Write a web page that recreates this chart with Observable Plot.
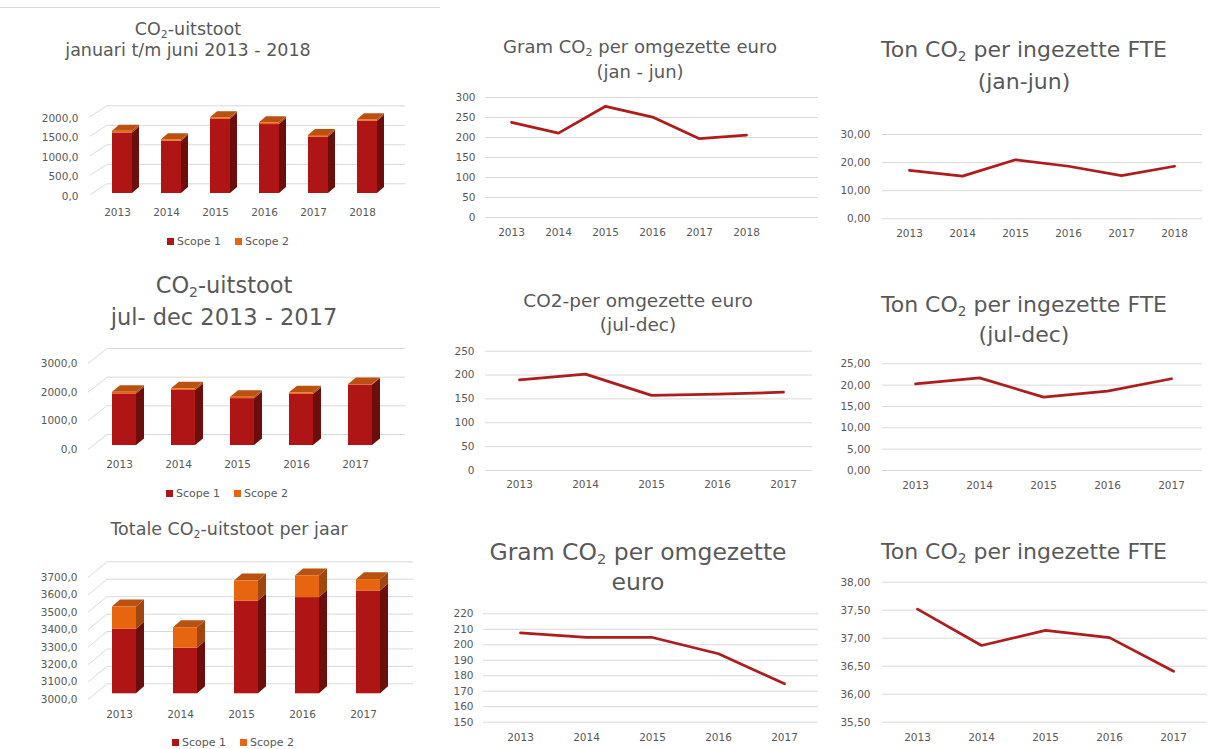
<!DOCTYPE html>
<html><head><meta charset="utf-8">
<script src="https://cdn.jsdelivr.net/npm/d3@7"></script>
<script src="https://cdn.jsdelivr.net/npm/@observablehq/plot@0.6"></script>
<style>
html,body{margin:0;padding:0;background:#fff;}
#canvas{position:relative;width:1212px;height:749px;overflow:hidden;font-family:"DejaVu Sans",sans-serif;color:#595959;}
.title{position:absolute;white-space:nowrap;text-align:center;line-height:1;color:#595959;}
.title sub{font-size:0.62em;vertical-align:-0.28em;line-height:0;}
.legend{position:absolute;display:flex;align-items:center;font-size:11px;color:#595959;white-space:nowrap;height:14px;}
.legend .sw{width:7px;height:7px;display:inline-block;margin-right:3px;}
.legend .item{display:flex;align-items:center;margin-right:14px;}
</style></head><body><div id="canvas"></div>
<script>
// ---------- data ----------
const yearsH1 = ["2013","2014","2015","2016","2017","2018"];
const yearsH2 = ["2013","2014","2015","2016","2017"];
const seriesNames = ["Scope 1","Scope 2"];

// CO2-uitstoot januari t/m juni (bar, stacked)
const h1Scope1 = [1552, 1342, 1901, 1768, 1447, 1855];
const h1Scope2 = [45, 35, 40, 45, 40, 35];
const h1Ticks = [0, 500, 1000, 1500, 2000];

// CO2-uitstoot jul-dec (bar, stacked)
const h2Scope1 = [1800, 1922, 1635, 1783, 2113];
const h2Scope2 = [60, 55, 50, 55, 15];
const h2Ticks = [0, 1000, 2000, 3000];

// Totale CO2-uitstoot per jaar (bar, stacked)
const totScope1 = [3370, 3262, 3532, 3552, 3590];
const totScope2 = [128, 117, 115, 124, 65];
const totTicks = [3000, 3100, 3200, 3300, 3400, 3500, 3600, 3700];

// Line charts
const gramH1 = [238, 211, 278, 251, 197, 206];
const gramH1Ticks = [0, 50, 100, 150, 200, 250, 300];
const tonH1 = [17.2, 15.2, 21.0, 18.7, 15.4, 18.7];
const tonH1Ticks = [0, 10, 20, 30];
const gramH2 = [190, 202, 157.5, 160, 164];
const gramH2Ticks = [0, 50, 100, 150, 200, 250];
const tonH2 = [20.3, 21.7, 17.2, 18.6, 21.5];
const tonH2Ticks = [0, 5, 10, 15, 20, 25];
const gramYear = [207.7, 204.7, 204.7, 194.2, 174.8];
const gramYearTicks = [150, 160, 170, 180, 190, 200, 210, 220];
const tonYear = [37.52, 36.87, 37.14, 37.01, 36.41];
const tonYearTicks = [35.5, 36, 36.5, 37, 37.5, 38];

// ---------- styling ----------
const GRID = "#D9D9D9";
const TEXT = "#595959";
const LINE = "#B01C1C";
const FRONT = {"Scope 1": "#B01515", "Scope 2": "#E8650F"};
const SIDE = {"Scope 1": "#6B0E0C", "Scope 2": "#A0460E"};
const TOP = "#BA5111";
const fmt1 = d => d3.format(".1f")(d).replace(".", ",");
const fmt2 = d => d3.format(".2f")(d).replace(".", ",");
const fmt0 = d3.format("d");
const baseStyle = {fontFamily: '"DejaVu Sans", sans-serif', fontSize: "10.5px", color: TEXT, background: "transparent", overflow: "visible"};

const canvas = document.getElementById("canvas");
function place(el, left, top) {
  el.style.position = "absolute";
  el.style.left = left + "px";
  el.style.top = top + "px";
  canvas.appendChild(el);
}
function title(lines, cx, cys, size) {
  lines.forEach((html, i) => {
    const d = document.createElement("div");
    d.className = "title";
    d.innerHTML = html;
    d.style.fontSize = size + "px";
    d.style.width = "440px";
    place(d, cx - 220, cys[i] - size * 0.5);
  });
}
function legend(left, cy) {
  const d = document.createElement("div");
  d.className = "legend";
  seriesNames.forEach(s => {
    const it = document.createElement("span");
    it.className = "item";
    it.innerHTML = `<span class="sw" style="background:${FRONT[s]}"></span>${s}`;
    d.appendChild(it);
  });
  place(d, left, cy - 7);
}
const deg = r => r * 180 / Math.PI;

function barChart(o) {
  const segs = [];
  o.years.forEach((yr, i) => {
    const a = o.s1[i], b = o.s2[i];
    segs.push({year: yr, series: "Scope 1", lo: o.base, hi: a});
    segs.push({year: yr, series: "Scope 2", lo: a, hi: a + b});
  });
  const tops = o.years.map((yr, i) => ({year: yr, total: o.s1[i] + o.s2[i]}));
  const common = {
    width: o.w, height: o.h, marginLeft: o.ml, marginRight: o.mr, marginTop: 0, marginBottom: o.mb,
    style: baseStyle,
    x: {type: "band", domain: o.years, range: o.xRange, padding: 0.6},
    y: {domain: [o.base, o.ticks[o.ticks.length - 1]], range: o.yRange}
  };
  const probe = Plot.plot({...common, marks: [Plot.barY(tops, {x: "year", y1: "total", y2: "total"})]});
  const sx = probe.scale("x");
  const bw = sx.bandwidth;
  const start = sx.apply(o.years[0]);
  const L = o.L;
  const marks = [
    Plot.ruleY(o.ticks, {stroke: GRID, strokeWidth: 1, dy: -o.back}),
    Plot.tickY(o.ticks, {x: () => o.years[0], y: d => d, stroke: GRID, strokeWidth: 1,
      insetLeft: 0, insetRight: bw - L, dx: o.ml - (start + L), dy: -o.back, ariaLabel: () => "diag"})
  ];
  seriesNames.forEach(s => {
    marks.push(Plot.barY(segs.filter(d => d.series === s), {x: "year", y1: "lo", y2: "hi", fill: SIDE[s],
      insetLeft: bw, insetRight: -o.d, ariaLabel: () => "side"}));
  });
  marks.push(Plot.barY(tops, {x: "year", y1: "total", y2: "total", fill: TOP, insetTop: -o.dv, ariaLabel: () => "top"}));
  seriesNames.forEach(s => {
    marks.push(Plot.barY(segs.filter(d => d.series === s), {x: "year", y1: "lo", y2: "hi", fill: FRONT[s]}));
  });
  marks.push(Plot.axisY({ticks: o.ticks, tickSize: 0, tickPadding: o.yPad, tickFormat: fmt1, dy: o.labelDy, label: null}));
  marks.push(Plot.axisX({tickSize: 0, tickPadding: o.xPad, dx: o.xDx, label: null}));
  const chart = Plot.plot({...common, marks});
  const sel = d3.select(chart);
  sel.selectAll('rect[aria-label="side"]')
    .style("transform-box", "fill-box").style("transform-origin", "left center")
    .style("transform", `skewY(${-deg(Math.atan(o.dv / o.d))}deg)`);
  sel.selectAll('rect[aria-label="top"]')
    .style("transform-box", "fill-box").style("transform-origin", "center bottom")
    .style("transform", `skewX(${-deg(Math.atan(o.d / o.dv))}deg)`);
  sel.selectAll('line[aria-label="diag"]')
    .style("transform-box", "fill-box").style("transform-origin", "right center")
    .style("transform", `skewY(${-deg(Math.atan(o.drop / L))}deg)`);
  place(chart, o.left, o.top);
}

function lineChart(o) {
  const rows = o.years.map((yr, i) => ({year: yr, value: o.values[i]}));
  const chart = Plot.plot({
    width: o.w, height: o.h, marginLeft: o.ml, marginRight: o.mr, marginTop: o.mt, marginBottom: o.mb,
    style: baseStyle,
    x: {type: "point", domain: o.years, range: o.xRange, padding: 0},
    y: {domain: [o.ticks[0], o.ticks[o.ticks.length - 1]]},
    marks: [
      Plot.ruleY(o.ticks, {stroke: GRID, strokeWidth: 1}),
      Plot.axisY({ticks: o.ticks, tickSize: 0, tickPadding: o.yPad, tickFormat: o.fmt, label: null}),
      Plot.axisX({tickSize: 0, tickPadding: o.xPad, label: null}),
      Plot.line(rows, {x: "year", y: "value", stroke: LINE, strokeWidth: 2.75, strokeLinejoin: "round", strokeLinecap: "round"})
    ]
  });
  place(chart, o.left, o.top);
}

// top thin separator line
const sep = document.createElement("div");
sep.style.cssText = "width:440px;height:1px;background:#D9D9D9;";
place(sep, 0, 7);

// ---------- bar charts ----------
barChart({years: yearsH1, s1: h1Scope1, s2: h1Scope2, base: 0, ticks: h1Ticks,
  left: 0, top: 95, w: 440, h: 130, ml: 107, mr: 35, mb: 32, xRange: [80, 408], yRange: [98, 20],
  back: 9.7, d: 7, dv: 6, L: 17, drop: 11, labelDy: 3, yPad: 29, xPad: 15, xDx: -5});
barChart({years: yearsH2, s1: h2Scope1, s2: h2Scope2, base: 0, ticks: h2Ticks,
  left: 0, top: 330, w: 440, h: 150, ml: 107, mr: 35, mb: 35, xRange: [75, 408], yRange: [115, 29],
  back: 11, d: 8, dv: 6.5, L: 19, drop: 15, labelDy: 4, yPad: 30, xPad: 15, xDx: -5});
barChart({years: yearsH2, s1: totScope1, s2: totScope2, base: 3000, ticks: totTicks,
  left: 0, top: 550, w: 440, h: 175, ml: 107, mr: 27, mb: 31.7, xRange: [74, 418], yRange: [143.3, 21.3],
  back: 10, d: 8, dv: 7, L: 19, drop: 15.7, labelDy: 5.7, yPad: 30, xPad: 17, xDx: -5});

// ---------- line charts ----------
lineChart({years: yearsH1, values: gramH1, ticks: gramH1Ticks, fmt: fmt0,
  left: 440, top: 85, w: 380, h: 160, ml: 45, mr: 2, mt: 12, mb: 28, xRange: [70, 307], yPad: 10, xPad: 11});
lineChart({years: yearsH1, values: tonH1, ticks: tonH1Ticks, fmt: fmt2,
  left: 820, top: 120, w: 392, h: 130, ml: 62, mr: 10, mt: 14, mb: 31.7, xRange: [87, 355], yPad: 12, xPad: 11});
lineChart({years: yearsH2, values: gramH2, ticks: gramH2Ticks, fmt: fmt0,
  left: 440, top: 340, w: 380, h: 160, ml: 45, mr: 8, mt: 10.7, mb: 30, xRange: [78, 343], yPad: 11, xPad: 10});
lineChart({years: yearsH2, values: tonH2, ticks: tonH2Ticks, fmt: fmt2,
  left: 820, top: 350, w: 392, h: 150, ml: 62, mr: 10, mt: 13.3, mb: 30, xRange: [93, 352], yPad: 12, xPad: 11});
lineChart({years: yearsH2, values: gramYear, ticks: gramYearTicks, fmt: fmt0,
  left: 440, top: 600, w: 380, h: 149, ml: 43, mr: 2, mt: 13.3, mb: 27.3, xRange: [78, 345], yPad: 10, xPad: 11.5});
lineChart({years: yearsH2, values: tonYear, ticks: tonYearTicks, fmt: fmt2,
  left: 820, top: 570, w: 392, h: 179, ml: 62, mr: 5, mt: 11.7, mb: 27.3, xRange: [95, 354], yPad: 12, xPad: 11.5});

// ---------- titles & legends ----------
title(["CO<sub>2</sub>-uitstoot", "januari t/m juni 2013 - 2018"], 188, [30, 51], 17.5);
title(["CO<sub>2</sub>-uitstoot", "jul- dec 2013 - 2017"], 224, [285, 317], 22.5);
title(["Totale CO<sub>2</sub>-uitstoot per jaar"], 229, [530], 17.5);
title(["Gram CO<sub>2</sub> per omgezette euro", "(jan - jun)"], 640, [47, 72], 18);
title(["Ton CO<sub>2</sub> per ingezette FTE", "(jan-jun)"], 1024, [50, 82], 22);
title(["CO2-per omgezette euro", "(jul-dec)"], 638, [301, 325], 18.5);
title(["Ton CO<sub>2</sub> per ingezette FTE", "(jul-dec)"], 1024, [305, 335], 22);
title(["Gram CO<sub>2</sub> per omgezette", "euro"], 638, [553, 583], 23.5);
title(["Ton CO<sub>2</sub> per ingezette FTE"], 1024, [552], 22);

legend(167, 241);
legend(166, 493);
legend(172, 742);
</script>
</body></html>
